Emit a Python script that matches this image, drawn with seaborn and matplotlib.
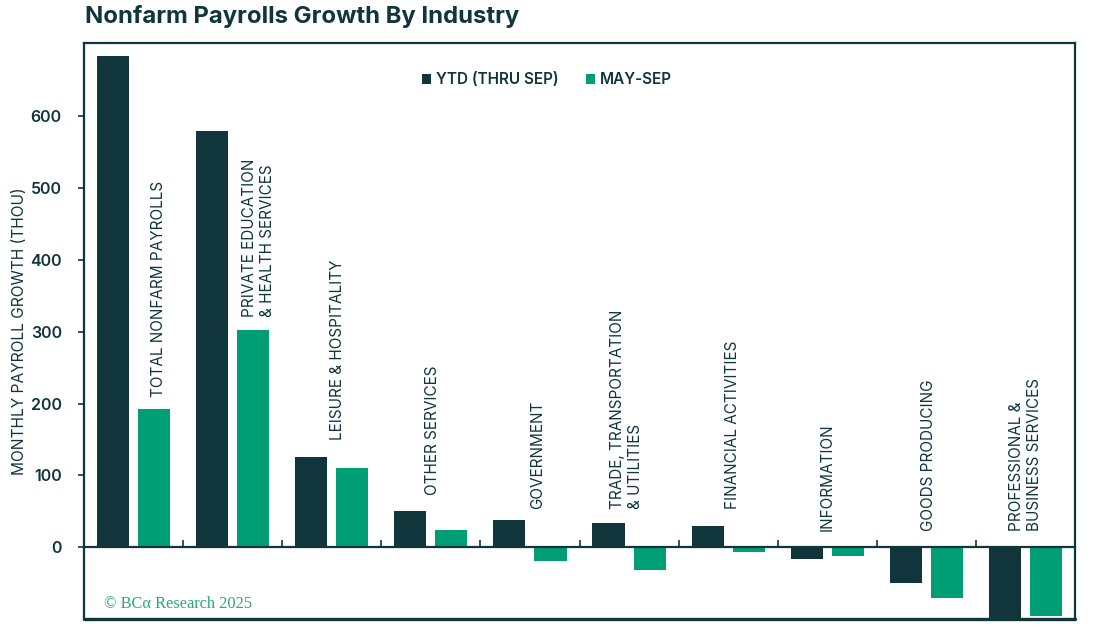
import matplotlib
matplotlib.use("Agg")
import matplotlib.pyplot as plt
import seaborn as sns
import pandas as pd
from matplotlib.lines import Line2D

# ---- data ----
categories = [
    "TOTAL NONFARM PAYROLLS",
    "PRIVATE EDUCATION\n& HEALTH SERVICES",
    "LEISURE & HOSPITALITY",
    "OTHER SERVICES",
    "GOVERNMENT",
    "TRADE, TRANSPORTATION\n& UTILITIES",
    "FINANCIAL ACTIVITIES",
    "INFORMATION",
    "GOODS PRODUCING",
    "PROFESSIONAL &\nBUSINESS SERVICES",
]
ytd_values = [684, 580, 125, 51, 38, 33, 29, -17, -50, -102]
may_sep_values = [193, 303, 110, 24, -19, -32, -7, -12, -71, -96]
series_names = ["YTD (THRU SEP)", "MAY-SEP"]
y_ticks = [0, 100, 200, 300, 400, 500, 600]

# ---- layout for category annotations (not data) ----
label_dx = [0.25, 0.26, 0.055, 0.015, 0.075, -0.025, 0.045, 0.0, 0.025, 0.0]
label_y = [209, 320, 149, 72, 53, 53, 53, 22, 22, 22]

DARK = "#10363c"
TEAL = "#009e74"

df = pd.DataFrame({
    "category": categories * 2,
    "value": ytd_values + may_sep_values,
    "series": [series_names[0]] * len(categories) + [series_names[1]] * len(categories),
})

sns.set_theme(style="white")
plt.rcParams["font.family"] = ["Inter", "DejaVu Sans"]

fig = plt.figure(figsize=(11.07, 6.34), dpi=100)
ax = fig.add_axes([84 / 1107, 15 / 634, (1075 - 84) / 1107, (619 - 43) / 634])

sns.barplot(data=df, x="category", y="value", hue="series", order=categories,
            hue_order=series_names, palette=[DARK, TEAL], width=0.83, gap=0.22,
            saturation=1, edgecolor="none", ax=ax, legend=True)

ax.set_xlim(-0.5, len(categories) - 0.5)
ax.set_ylim(-100, 702)

# frame
for side in ["top", "left", "right"]:
    ax.spines[side].set_color(DARK)
    ax.spines[side].set_linewidth(1.6)
ax.spines["bottom"].set_position(("data", 0))
ax.spines["bottom"].set_color(DARK)
ax.spines["bottom"].set_linewidth(1.6)
ax.add_line(Line2D([0, 1], [0, 0], transform=ax.transAxes, color=DARK,
                   linewidth=2.4, clip_on=False))

# x ticks at category boundaries on the zero line
ax.set_xticks([i + 0.5 for i in range(len(categories) - 1)])
ax.set_xticklabels([])
ax.tick_params(axis="x", direction="in", length=5, width=1.2, color=DARK,
               bottom=True)
ax.set_xlabel("")

# y ticks
ax.set_yticks(y_ticks)
ax.set_yticklabels([str(v) for v in y_ticks])
ax.tick_params(axis="y", direction="out", length=4, width=1.2, color=DARK,
               left=True, pad=12, labelsize=11.5, labelcolor=DARK)
for lbl in ax.get_yticklabels():
    lbl.set_fontweight("semibold")
ax.set_ylabel("MONTHLY PAYROLL GROWTH (THOU)", fontsize=11.2, color=DARK)
ax.yaxis.set_label_coords(-57 / 991, 0.5)

# category labels
for i, name in enumerate(categories):
    ax.text(i + label_dx[i], label_y[i], name, rotation=90, ha="center",
            va="bottom", multialignment="left", fontsize=11, color=DARK,
            linespacing=1.25)

# legend
leg = ax.legend(loc="center", bbox_to_anchor=(0.467, 0.936), ncol=2, frameon=False,
                handlelength=0.6, handleheight=0.6, handletextpad=0.3,
                columnspacing=1.8, fontsize=11)
for t in leg.get_texts():
    t.set_color(DARK)
    t.set_fontweight("semibold")

# copyright
ax.text(20 / 991, 11 / 576, "© BCα Research 2025", transform=ax.transAxes,
        fontsize=11.8, color="#2aa57e", family=["Liberation Serif", "DejaVu Serif"],
        ha="left", va="baseline")

# title
fig.text(85 / 1107, 1 - 16 / 634, "Nonfarm Payrolls Growth By Industry",
         fontsize=17.2, fontweight="bold", color=DARK, ha="left", va="center")

fig.savefig("out.png", dpi=100)
